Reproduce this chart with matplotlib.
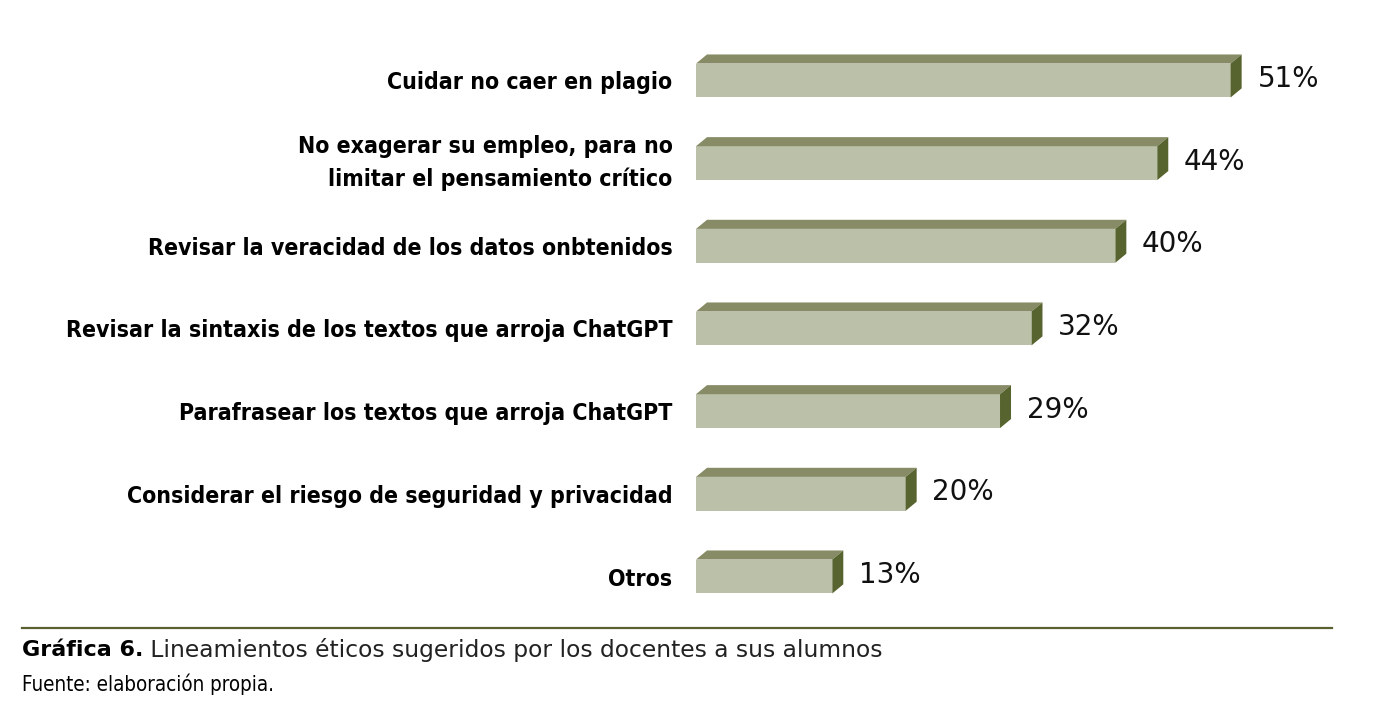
import matplotlib
matplotlib.use('Agg')
import matplotlib.pyplot as plt
from matplotlib.patches import Polygon

categories = ['Cuidar no caer en plagio',
              'No exagerar su empleo, para no\nlimitar el pensamiento crítico',
              'Revisar la veracidad de los datos onbtenidos',
              'Revisar la sintaxis de los textos que arroja ChatGPT',
              'Parafrasear los textos que arroja ChatGPT',
              'Considerar el riesgo de seguridad y privacidad',
              'Otros']
values = [51, 44, 40, 32, 29, 20, 13]

front_col = '#bbc0a9'
top_col = '#878c67'
side_col = '#58642f'

fig = plt.figure(figsize=(13.9, 7.2), dpi=100)
ax = fig.add_axes([696/1390, 1-617/720, 629/1390, 577/720])

h = 0.41      # bar height (category units)
dx = 1.05     # depth in % units
dy = 0.11     # depth in category units
ys = list(range(len(values)))

ax.barh(ys, values, height=h, color=front_col, zorder=2)
for y, v in zip(ys, values):
    top = y - h/2
    bot = y + h/2
    ax.add_patch(Polygon([(0, top), (v, top), (v+dx, top-dy), (dx, top-dy)],
                         closed=True, facecolor=top_col, edgecolor='none', zorder=3))
    ax.add_patch(Polygon([(v, top), (v+dx, top-dy), (v+dx, bot-dy), (v, bot)],
                         closed=True, facecolor=side_col, edgecolor='none', zorder=3))
    ax.text(v + dx + 1.5, y - 0.02, f'{v}%', va='center', ha='left',
            fontsize=20, color='#111111')

ax.set_xlim(0, 60)
ax.set_ylim(6 + (617-576.5)/82.67, -40.5/82.67)
ax.set_yticks(ys)
ax.set_yticklabels(categories, fontsize=16.6, fontweight='bold', fontstretch='condensed',
                   linespacing=1.5)
for lbl in ax.get_yticklabels():
    if '\n' in lbl.get_text():
        lbl.set_va('center')
ax.tick_params(axis='y', length=0, pad=17)
ax.set_xticks([])
for s in ax.spines.values():
    s.set_visible(False)

# caption
fig.add_artist(plt.Line2D([22/1390, 1332/1390], [1-628/720, 1-628/720],
                          color='#5a6030', linewidth=1.6))
t1 = fig.text(22/1390, 1-650/720, 'Gráfica 6.', fontsize=16, fontweight='bold',
              va='center', ha='left')
ax.annotate(' Lineamientos éticos sugeridos por los docentes a sus alumnos',
            xy=(1, 0.5), xycoords=t1, va='center', ha='left',
            fontsize=16.8, color='#222222', annotation_clip=False)
fig.text(22/1390, 1-684/720, 'Fuente: elaboración propia.', fontsize=14.8,
         fontstretch='condensed', va='center', ha='left')

fig.savefig('out.png', dpi=100)
